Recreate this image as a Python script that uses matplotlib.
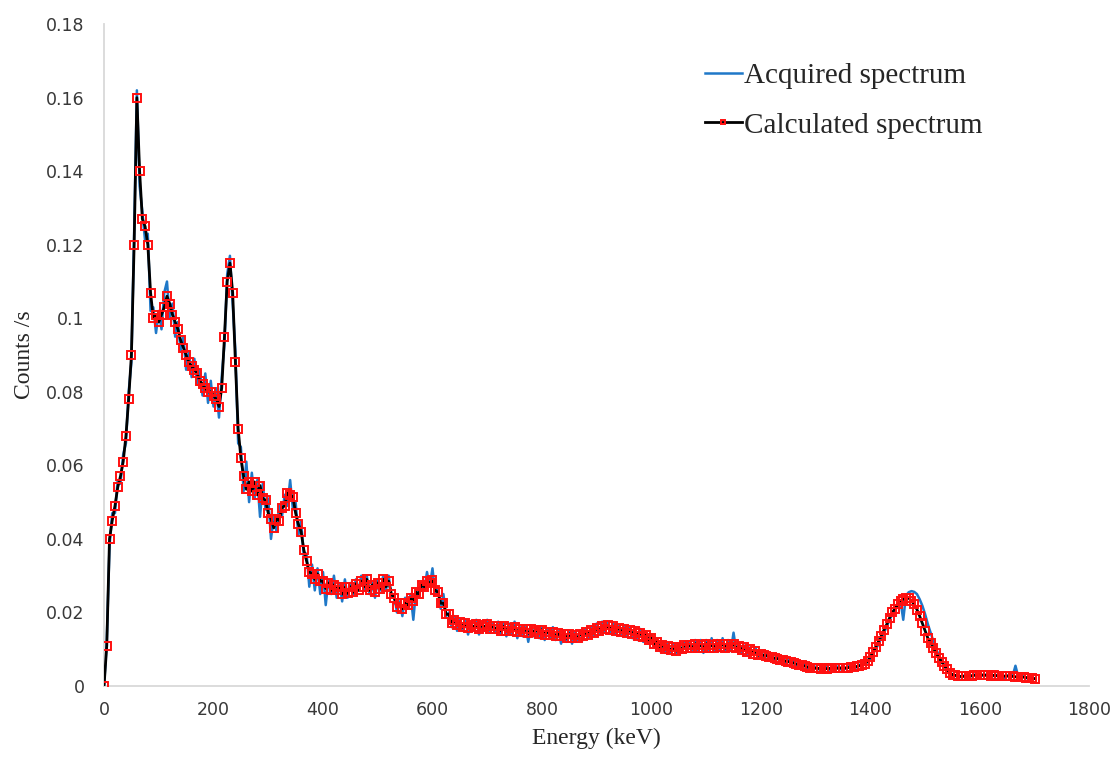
import matplotlib
matplotlib.use("Agg")
import matplotlib.pyplot as plt
import numpy as np

# energy channels, 5 keV apart (0 - 1700 keV)
energia = np.arange(0, 1701, 5)

# calculated spectrum (counts/s)
calculado = [
    0.000, 0.011, 0.040, 0.045, 0.049, 0.054, 0.057, 0.061, 0.068, 0.078,
    0.090, 0.120, 0.160, 0.140, 0.127, 0.125, 0.120, 0.107, 0.100, 0.101,
    0.099, 0.101, 0.103, 0.106, 0.104, 0.101, 0.099, 0.097, 0.094, 0.092,
    0.090, 0.088, 0.087, 0.086, 0.085, 0.083, 0.082, 0.081, 0.080, 0.080,
    0.079, 0.078, 0.076, 0.081, 0.095, 0.110, 0.115, 0.107, 0.088, 0.070,
    0.062, 0.057, 0.0535, 0.0555, 0.053, 0.0555, 0.052, 0.0545, 0.051, 0.0505,
    0.047, 0.0455, 0.043, 0.0455, 0.045, 0.0485, 0.049, 0.0525, 0.052, 0.0515,
    0.047, 0.044, 0.042, 0.037, 0.034, 0.031, 0.0305, 0.029, 0.0305, 0.0285,
    0.0285, 0.0265, 0.028, 0.026, 0.0275, 0.0262, 0.027, 0.025, 0.0268, 0.0252,
    0.027, 0.0255, 0.0278, 0.026, 0.0285, 0.027, 0.029, 0.026, 0.0275, 0.0255,
    0.028, 0.0265, 0.029, 0.027, 0.0285, 0.025, 0.024, 0.0215, 0.0225, 0.021,
    0.0225, 0.022, 0.024, 0.023, 0.0255, 0.025, 0.0275, 0.027, 0.0285, 0.028,
    0.0288, 0.026, 0.0255, 0.0225, 0.0225, 0.0195, 0.0195, 0.0172, 0.018, 0.0165,
    0.0175, 0.016, 0.017, 0.0158, 0.0167, 0.016, 0.0168, 0.0155, 0.0167, 0.016,
    0.0168, 0.0155, 0.0163, 0.0155, 0.0162, 0.015, 0.0162, 0.015, 0.0158, 0.015,
    0.016, 0.0147, 0.0155, 0.0148, 0.0155, 0.0143, 0.0155, 0.0147, 0.0153, 0.0142,
    0.0153, 0.014, 0.0148, 0.014, 0.0147, 0.0135, 0.0143, 0.0135, 0.0142, 0.013,
    0.0142, 0.013, 0.0138, 0.013, 0.0142, 0.0135, 0.0148, 0.014, 0.0153, 0.0145,
    0.0158, 0.015, 0.0163, 0.0155, 0.0165, 0.0153, 0.0162, 0.015, 0.0158, 0.0147,
    0.0155, 0.0145, 0.0153, 0.0142, 0.015, 0.0137, 0.0145, 0.0132, 0.0138, 0.0125,
    0.013, 0.0115, 0.012, 0.0105, 0.0112, 0.010, 0.0108, 0.0097, 0.0105, 0.0095,
    0.0107, 0.010, 0.0112, 0.0103, 0.0112, 0.0103, 0.0115, 0.0103, 0.0112, 0.0103,
    0.0115, 0.0103, 0.0112, 0.0103, 0.0115, 0.0106, 0.0115, 0.0103, 0.0115, 0.0106,
    0.0115, 0.0102, 0.011, 0.0097, 0.0105, 0.0093, 0.010, 0.0088, 0.0094, 0.0084,
    0.0086, 0.0084, 0.0082, 0.008, 0.0078, 0.0076, 0.0074, 0.0072, 0.007, 0.0068,
    0.0066, 0.0064, 0.0062, 0.006, 0.0058, 0.0056, 0.0054, 0.0052, 0.005, 0.0049,
    0.0048, 0.0048, 0.0047, 0.0048, 0.0047, 0.0048, 0.0048, 0.0049, 0.0048, 0.0049,
    0.005, 0.0049, 0.005, 0.0051, 0.0052, 0.0053, 0.0055, 0.0057, 0.006, 0.0068,
    0.008, 0.0092, 0.0107, 0.0122, 0.0137, 0.0153, 0.0168, 0.0185, 0.020, 0.021,
    0.0222, 0.023, 0.0236, 0.024, 0.0239, 0.0232, 0.0222, 0.0208, 0.019, 0.017,
    0.015, 0.013, 0.0118, 0.0103, 0.009, 0.0077, 0.0066, 0.0055, 0.0045, 0.0036,
    0.0031, 0.0029, 0.0027, 0.0026, 0.0026, 0.0027, 0.0028, 0.0028, 0.0029, 0.003,
    0.003, 0.003, 0.0029, 0.0029, 0.0028, 0.0029, 0.0028, 0.0028, 0.0027, 0.0027,
    0.0027, 0.0026, 0.0026, 0.0025, 0.0025, 0.0024, 0.0024, 0.0023, 0.0022, 0.0022,
    0.002,
]

# acquired spectrum (noisy)
adquirido = [
    0.000, 0.012, 0.038, 0.047, 0.047, 0.056, 0.055, 0.063, 0.066, 0.080,
    0.088, 0.123, 0.162, 0.136, 0.129, 0.121, 0.123, 0.102, 0.103, 0.096,
    0.102, 0.097, 0.107, 0.110, 0.100, 0.104, 0.095, 0.099, 0.091, 0.095,
    0.086, 0.091, 0.084, 0.089, 0.082, 0.086, 0.079, 0.085, 0.077, 0.083,
    0.076, 0.081, 0.073, 0.084, 0.093, 0.112, 0.117, 0.104, 0.091, 0.066,
    0.065, 0.053, 0.061, 0.050, 0.058, 0.051, 0.056, 0.046, 0.055, 0.048,
    0.051, 0.040, 0.046, 0.042, 0.049, 0.046, 0.052, 0.049, 0.056, 0.048,
    0.050, 0.041, 0.045, 0.035, 0.036, 0.027, 0.033, 0.026, 0.032, 0.025,
    0.031, 0.022, 0.029, 0.025, 0.030, 0.024, 0.028, 0.023, 0.029, 0.024,
    0.028, 0.025, 0.029, 0.026, 0.030, 0.026, 0.030, 0.025, 0.028, 0.024,
    0.029, 0.026, 0.030, 0.026, 0.030, 0.024, 0.025, 0.020, 0.023, 0.019,
    0.024, 0.021, 0.025, 0.018, 0.026, 0.024, 0.028, 0.026, 0.031, 0.027,
    0.032, 0.025, 0.027, 0.021, 0.025, 0.019, 0.020, 0.016, 0.019, 0.015,
    0.018, 0.015, 0.018, 0.014, 0.017, 0.015, 0.018, 0.014, 0.017, 0.015,
    0.018, 0.0145, 0.017, 0.0145, 0.0175, 0.014, 0.017, 0.0135, 0.017, 0.014,
    0.0175, 0.013, 0.016, 0.0135, 0.0165, 0.012, 0.0165, 0.0135, 0.016, 0.013,
    0.016, 0.0125, 0.0155, 0.013, 0.016, 0.0125, 0.015, 0.0115, 0.015, 0.012,
    0.015, 0.0115, 0.0145, 0.0125, 0.015, 0.0125, 0.0155, 0.013, 0.016, 0.0135,
    0.017, 0.014, 0.0175, 0.0145, 0.0175, 0.0145, 0.017, 0.014, 0.0165, 0.014,
    0.0165, 0.0135, 0.016, 0.013, 0.016, 0.0125, 0.0155, 0.012, 0.0145, 0.0115,
    0.014, 0.0105, 0.013, 0.0095, 0.012, 0.009, 0.0115, 0.009, 0.0115, 0.0085,
    0.0115, 0.009, 0.012, 0.0095, 0.012, 0.0095, 0.0125, 0.0095, 0.0125, 0.009,
    0.0125, 0.0095, 0.013, 0.0095, 0.0125, 0.0095, 0.013, 0.0095, 0.0125, 0.0095,
    0.0145, 0.0095, 0.0115, 0.009, 0.011, 0.0085, 0.0105, 0.0085, 0.0105, 0.008,
    0.0095, 0.0075, 0.009, 0.007, 0.0085, 0.0068, 0.0082, 0.0065, 0.0078, 0.0062,
    0.0072, 0.006, 0.0068, 0.0055, 0.0064, 0.005, 0.006, 0.0048, 0.0056, 0.0044,
    0.0053, 0.0045, 0.0052, 0.0043, 0.0053, 0.0044, 0.0053, 0.0045, 0.0053, 0.0045,
    0.0054, 0.0046, 0.0055, 0.0048, 0.0056, 0.005, 0.0058, 0.0054, 0.0062, 0.0065,
    0.0075, 0.0088, 0.010, 0.0115, 0.013, 0.0145, 0.0162, 0.018, 0.0195, 0.021,
    0.0222, 0.0232, 0.018, 0.0246, 0.0255, 0.0258, 0.0256, 0.025, 0.0236, 0.0218,
    0.0195, 0.0168, 0.0145, 0.0122, 0.0101, 0.0084, 0.0068, 0.0055, 0.0044, 0.0036,
    0.0031, 0.0027, 0.0029, 0.0024, 0.0028, 0.0025, 0.003, 0.0026, 0.0031, 0.0027,
    0.0032, 0.0028, 0.0031, 0.0026, 0.0030, 0.0027, 0.0030, 0.0025, 0.0029, 0.0021,
    0.0029, 0.0024, 0.0028, 0.0055, 0.0026, 0.0022, 0.0026, 0.0021, 0.0024, 0.002,
    0.002,
]

xticks = [0, 200, 400, 600, 800, 1000, 1200, 1400, 1600, 1800]
yticks = [0, 0.02, 0.04, 0.06, 0.08, 0.1, 0.12, 0.14, 0.16, 0.18]
ytick_labels = ['0', '0.02', '0.04', '0.06', '0.08', '0.1', '0.12', '0.14', '0.16', '0.18']

fig = plt.figure(figsize=(11.15, 7.59), dpi=100)
ax = fig.add_axes([0.0933, 0.0962, 0.8837, 0.872])

ax.plot(energia, adquirido, color='#1f78c8', lw=1.8, label='Acquired spectrum', zorder=2)
ax.plot(energia, calculado, color='black', lw=2.0, marker='s', markersize=5.5,
        markerfacecolor='none', markeredgecolor='#ff1010', markeredgewidth=1.4,
        label='Calculated spectrum', zorder=3)

ax.set_xlim(0, 1800)
ax.set_ylim(0, 0.18)
ax.set_xticks(xticks)
ax.set_yticks(yticks)
ax.set_yticklabels(ytick_labels)
ax.tick_params(length=0, labelsize=12.5, labelcolor='#383838')
ax.tick_params(axis='y', pad=14)
ax.tick_params(axis='x', pad=11)

for s in ['top', 'right']:
    ax.spines[s].set_visible(False)
for s in ['left', 'bottom']:
    ax.spines[s].set_color('#d9d9d9')
    ax.spines[s].set_linewidth(1.3)

ax.set_xlabel('Energy (keV)', family='Liberation Serif', fontsize=17, color='#262626', labelpad=6)
ax.set_ylabel('Counts /s', family='Liberation Serif', fontsize=17, color='#262626', labelpad=8)

leg = ax.legend(loc='upper left', bbox_to_anchor=(0.61, 0.942), frameon=False,
                prop={'family': 'Liberation Serif', 'size': 21}, handlelength=1.25,
                handletextpad=0.1, labelspacing=0.8, borderpad=0, borderaxespad=0,
                markerscale=0.65)
for t in leg.get_texts():
    t.set_color('#262626')

fig.savefig('out.png', dpi=100)
